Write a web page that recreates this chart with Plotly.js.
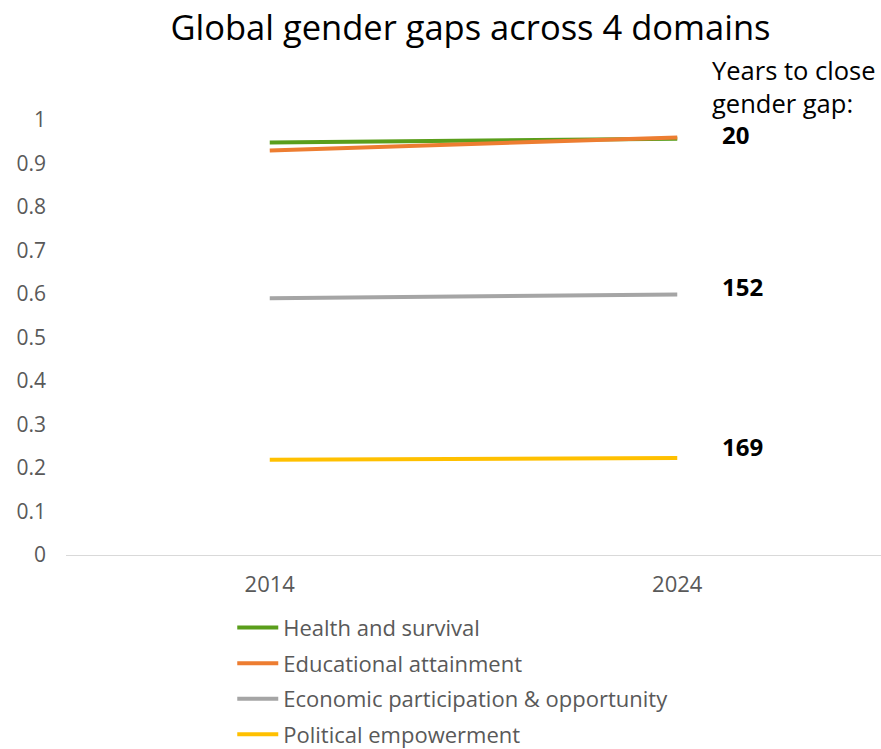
<!DOCTYPE html>
<html>
<head>
<meta charset="utf-8">
<script src="https://cdn.plot.ly/plotly-3.0.1.min.js"></script>
<style>html,body{margin:0;padding:0;background:#fff;}#chart{width:881px;height:749px;}</style>
</head>
<body>
<div id="chart"></div>
<script>
const years = ["2014", "2024"];
const seriesNames = ["Health and survival", "Educational attainment", "Economic participation & opportunity", "Political empowerment"];
const health = [0.948, 0.957];
const education = [0.930, 0.960];
const economic = [0.590, 0.599];
const political = [0.219, 0.223];
const yearsToClose = ["20", "152", "169"];
const colors = ["#5A9E1B", "#ED7D31", "#A5A5A5", "#FFC000"];

const allSeries = [health, education, economic, political];
const traces = allSeries.map((vals, i) => ({
  x: years, y: vals, name: seriesNames[i], type: "scatter", mode: "lines",
  legendgroup: "g" + i,
  line: {color: colors[i], width: 4}
}));

const font = "'Open Sans', sans-serif";
const annotations = [
  {text: "Years to close<br>gender gap:", xref: "paper", yref: "paper", x: 0.79, y: 0.996, xanchor: "left", yanchor: "bottom", showarrow: false, align: "left", font: {family: font, size: 25.5, color: "#000"}},
  {text: "<b>" + yearsToClose[0] + "</b>", xref: "paper", yref: "y", x: 0.803, y: education[1], xanchor: "left", yanchor: "middle", yshift: 3, showarrow: false, font: {family: font, size: 24, color: "#000"}},
  {text: "<b>" + yearsToClose[1] + "</b>", xref: "paper", yref: "y", x: 0.803, y: economic[1], xanchor: "left", yanchor: "middle", yshift: 8, showarrow: false, font: {family: font, size: 24, color: "#000"}},
  {text: "<b>" + yearsToClose[2] + "</b>", xref: "paper", yref: "y", x: 0.803, y: political[1], xanchor: "left", yanchor: "middle", yshift: 12, showarrow: false, font: {family: font, size: 24, color: "#000"}}
];

const layout = {
  width: 881, height: 749,
  margin: {l: 66, r: 0, t: 120, b: 194, autoexpand: false},
  paper_bgcolor: "#fff", plot_bgcolor: "#fff",
  title: {text: "Global gender gaps across 4 domains", font: {family: font, size: 34.5, color: "#000"}, x: 0.534, xanchor: "center", y: 0.963, yanchor: "middle"},
  xaxis: {type: "category", range: [-0.5, 1.5], showgrid: false, zeroline: false, showline: true, linecolor: "#D9D9D9", linewidth: 1, ticks: "", tickfont: {family: font, size: 22, color: "#595959"}, ticklabelstandoff: 10},
  yaxis: {range: [0, 1], dtick: 0.1, showgrid: false, zeroline: false, showline: false, ticks: "", tickfont: {family: font, size: 21, color: "#595959"}, ticklabelstandoff: 19},
  showlegend: true,
  legend: {orientation: "v", x: 0.204, y: -0.119, xanchor: "left", yanchor: "top", traceorder: "grouped", tracegroupgap: 4, itemwidth: 41, font: {family: font, size: 22, color: "#595959"}, bgcolor: "rgba(0,0,0,0)"},
  annotations: annotations
};

Plotly.newPlot("chart", traces, layout, {displayModeBar: false, staticPlot: true});
</script>
</body>
</html>
